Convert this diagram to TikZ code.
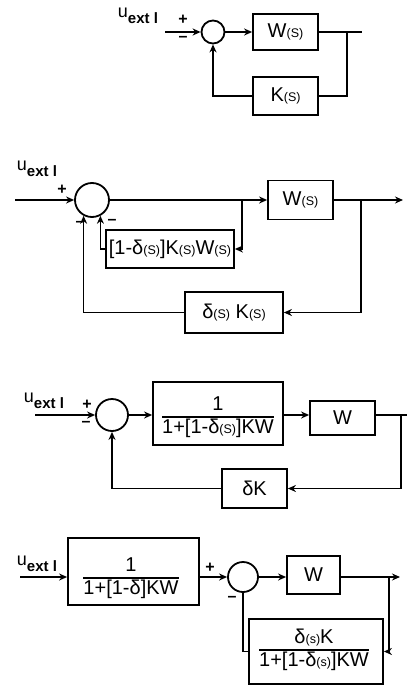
\documentclass[tikz,border=0pt]{standalone}
\usepackage{fontspec}
\setmainfont{Liberation Sans}
\usetikzlibrary{arrows.meta,calc}
\setlength{\arrayrulewidth}{1.5pt}
\newcommand{\sml}[1]{{\fontsize{12.5}{12.5}\selectfont #1}}
\newcommand{\uext}{u\raisebox{-0.6ex}{\fontsize{15}{15}\selectfont\bfseries ext l}}
\newcommand{\myfrac}[2]{\begin{tabular}{@{}c@{}}#1\\[-1pt]\hline\rule{0pt}{16pt}#2\end{tabular}}
\begin{document}
\begin{tikzpicture}[x=1pt,y=-1pt,line width=1.8pt,
  blk/.style={draw,rectangle,inner sep=0pt,font=\fontsize{20}{20}\selectfont},
  frbox/.style={draw,rectangle,inner sep=0pt},
  frtxt/.style={inner sep=0pt,font=\fontsize{20}{22}\selectfont},
  sumc/.style={draw,circle,inner sep=0pt},
  arr/.style={-{Stealth[length=8pt,width=7pt]}},
  sgn/.style={inner sep=0pt,font=\fontsize{16}{16}\selectfont\bfseries},
  lbl/.style={inner sep=0pt,font=\fontsize{18}{18}\selectfont}]
\useasboundingbox (0,0) rectangle (407,688);

% ---------- diagram 1 ----------
\node[lbl] (u1) at (138,16) {\uext};
\coordinate (in1) at (165,32);
\node[sumc,minimum size=23pt] (s1) at (213,32) {};
\node[blk,minimum width=65pt,minimum height=36pt] (W1) at (285.5,32) {W\sml{(S)}};
\node[blk,minimum width=65pt,minimum height=38pt] (K1) at (285.5,96) {K\sml{(S)}};
\coordinate (j1) at (347,32);
\coordinate (o1) at (362,32);
\node[sgn] (p1) at (183,20) {+};
\node[sgn] (m1) at (183,39) {--};
\draw[arr] (in1) -- (s1);
\draw[arr] (s1) -- (W1);
\draw (W1) -- (o1);
\draw (j1) |- (K1);
\draw[arr] (K1) -| (s1);

% ---------- diagram 2 ----------
\node[lbl] (u2) at (37,169) {\uext};
\coordinate (in2) at (15,200);
\node[sumc,minimum size=34pt] (s2) at (92,200) {};
\node[blk,minimum width=65pt,minimum height=39pt] (W2) at (300.5,200) {W\sml{(S)}};
\node[blk,minimum width=128pt,minimum height=38pt] (I2) at (170,249) {[1-δ\sml{(S)}]K\sml{(S)}W\sml{(S)}};
\node[blk,minimum width=98pt,minimum height=41pt] (D2) at (234,312.5) {δ\sml{(S)} K\sml{(S)}};
\coordinate (j2a) at (242,200);
\coordinate (j2b) at (361,200);
\coordinate (o2) at (403,200);
\node[sgn] (p2) at (62,190) {+};
\node[sgn] (m2a) at (80,224) {--};
\node[sgn] (m2b) at (112,222) {--};
\draw[arr] (in2) -- (s2);
\draw[arr] (s2) -- (W2);
\draw[arr] (W2) -- (o2);
\draw[arr] (j2a) |- (I2);
\draw[arr] (I2) -| (s2.-62);
\draw[arr] (j2b) |- (D2);
\draw[arr] (D2) -| (s2.-118);

% ---------- diagram 3 ----------
\node[lbl] (u3) at (44,401) {\uext};
\coordinate (in3) at (35,415);
\node[sumc,minimum size=32pt] (s3) at (112,415) {};
\node[frbox,minimum width=130pt,minimum height=63pt] (F3) at (218,413.5) {};
\node[frtxt] (F3t) at (218,418) {\myfrac{1}{1+[1-δ\sml{(S)}]KW}};
\node[blk,minimum width=65pt,minimum height=34pt] (W3) at (342.5,418) {W};
\node[blk,minimum width=65pt,minimum height=39pt] (K3) at (254.5,488.5) {δK};
\coordinate (j3) at (401,415);
\coordinate (o3) at (407,415);
\node[sgn] (p3) at (87,405) {+};
\node[sgn] (m3) at (86,424) {--};
\draw[arr] (in3) -- (s3);
\draw[arr] (s3) -- (s3 -| F3.west);
\draw[arr] (s3 -| F3.east) -- (s3 -| W3.west);
\draw (s3 -| W3.east) -- (o3);
\draw[arr] (j3) |- (K3);
\draw[arr] (K3) -| (s3);

% ---------- diagram 4 ----------
\node[lbl] (u4) at (37,564) {\uext};
\coordinate (in4) at (20,577);
\node[frbox,minimum width=131pt,minimum height=67pt] (F4) at (133.5,571.5) {};
\node[frtxt] (F4t) at (131,579) {\myfrac{1}{1+[1-δ]KW}};
\node[sumc,minimum size=30pt] (s4) at (243,577) {};
\node[blk,minimum width=53pt,minimum height=38pt] (W4) at (313.5,575) {W};
\node[frbox,minimum width=134pt,minimum height=65pt] (B4) at (316,651.5) {};
\node[frtxt] (B4t) at (314,651) {\myfrac{δ\sml{(s)}K}{1+[1-δ\sml{(s)}]KW}};
\coordinate (j4) at (389,577);
\coordinate (o4) at (400,577);
\node[sgn] (p4) at (210,568) {+};
\node[sgn] (m4) at (232,599) {--};
\draw[arr] (in4) -- (in4 -| F4.west);
\draw[arr] (s4 -| F4.east) -- (s4);
\draw[arr] (s4) -- (s4 -| W4.west);
\draw[arr] (s4 -| W4.east) -- (o4);
\draw[arr] (j4) |- (B4);
\draw (B4) -| (s4);
\end{tikzpicture}
\end{document}
